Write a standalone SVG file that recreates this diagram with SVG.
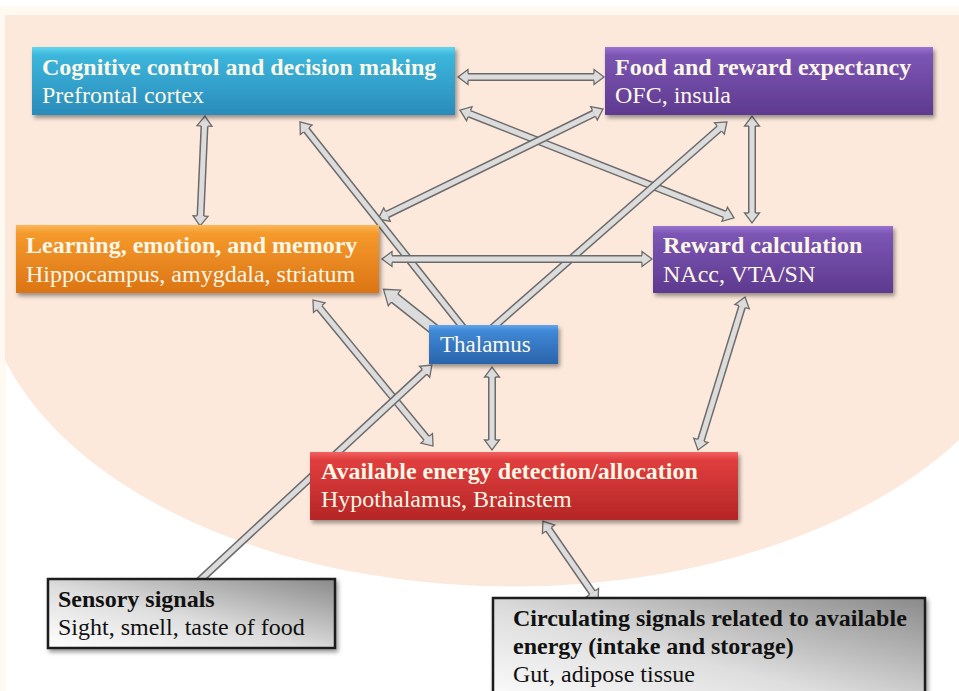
<svg xmlns="http://www.w3.org/2000/svg" width="959" height="691" viewBox="0 0 959 691">
<style>
.o{stroke:#6b6b6b;stroke-width:8;fill:none}
.i{stroke:#dcdcdc;stroke-width:5;fill:none}
.ob{stroke:#6b6b6b;stroke-width:12;fill:none}
.ib{stroke:#dcdcdc;stroke-width:9;fill:none}
.hd{marker-start:url(#h);marker-end:url(#h)}
.he{marker-end:url(#h)}
.hs{marker-start:url(#h)}
text{font-family:"Liberation Serif","DejaVu Serif",serif;font-size:24px;font-weight:normal}
.b{font-weight:bold}
.w{fill:#fbf7e6}
.k{fill:#111}
</style>
<defs>
<marker id="h" markerUnits="userSpaceOnUse" viewBox="-2 -10 16 20" markerWidth="16" markerHeight="20" refX="0" refY="0" orient="auto-start-reverse" overflow="visible">
<path d="M0,-3.4 L0,-7.5 L10,0 L0,7.5 L0,3.4" fill="#dcdcdc" stroke="#6b6b6b" stroke-width="1.3"/>
</marker>
<marker id="hb" markerUnits="userSpaceOnUse" viewBox="-2 -12 18 24" markerWidth="18" markerHeight="24" refX="0" refY="0" orient="auto-start-reverse" overflow="visible">
<path d="M0,-5.3 L0,-10 L14,0 L0,10 L0,5.3" fill="#dcdcdc" stroke="#6b6b6b" stroke-width="1.3"/>
</marker>
<linearGradient id="gc" x1="0" y1="0" x2="0" y2="1"><stop offset="0" stop-color="#63d6ee"/><stop offset="0.12" stop-color="#3cb6dc"/><stop offset="1" stop-color="#2a8bba"/></linearGradient>
<linearGradient id="gp" x1="0" y1="0" x2="0" y2="1"><stop offset="0" stop-color="#9a72cf"/><stop offset="0.12" stop-color="#7c55b4"/><stop offset="1" stop-color="#5e3a8f"/></linearGradient>
<linearGradient id="go" x1="0" y1="0" x2="0" y2="1"><stop offset="0" stop-color="#fbb85a"/><stop offset="0.12" stop-color="#f59a2c"/><stop offset="1" stop-color="#dc7415"/></linearGradient>
<linearGradient id="gb" x1="0" y1="0" x2="0" y2="1"><stop offset="0" stop-color="#63a6ea"/><stop offset="0.15" stop-color="#3f88d6"/><stop offset="1" stop-color="#2a64ab"/></linearGradient>
<linearGradient id="gr" x1="0" y1="0" x2="0" y2="1"><stop offset="0" stop-color="#f26262"/><stop offset="0.12" stop-color="#e03e3e"/><stop offset="1" stop-color="#b52525"/></linearGradient>
<linearGradient id="gg" x1="0" y1="1" x2="1" y2="0"><stop offset="0" stop-color="#ffffff"/><stop offset="0.45" stop-color="#dedede"/><stop offset="1" stop-color="#8a8a8a"/></linearGradient>
<filter id="sh" x="-10%" y="-20%" width="125%" height="150%"><feDropShadow dx="2" dy="3" stdDeviation="2" flood-color="#000" flood-opacity="0.4"/></filter>
</defs>
<rect width="959" height="691" fill="#ffffff"/>
<rect x="0" y="6" width="959" height="10" fill="#fefaf2"/>
<rect x="0" y="6" width="6" height="685" fill="#fefaf2"/>
<path d="M5,15 H959 V440 A530 318 0 0 1 5 360 Z" fill="#fde9db"/>

<g id="connectors">
<g><line class="o hd" x1="468" y1="77" x2="594" y2="77"/><line class="i" x1="468" y1="77" x2="594" y2="77"/></g>
<g><line class="o hd" x1="469.3" y1="113.7" x2="724.7" y2="214.3"/><line class="i" x1="469.3" y1="113.7" x2="724.7" y2="214.3"/></g>
<g><line class="o hd" x1="387" y1="214.6" x2="594" y2="113.4"/><line class="i" x1="387" y1="214.6" x2="594" y2="113.4"/></g>
<g><line class="o hs" x1="306.2" y1="129.8" x2="465" y2="330"/><line class="i" x1="306.2" y1="129.8" x2="465" y2="330"/></g>
<g><line class="o he" x1="490" y1="330" x2="719.4" y2="128.5"/><line class="i" x1="490" y1="330" x2="719.4" y2="128.5"/></g>
<g><line class="o hd" x1="392" y1="259" x2="642" y2="259"/><line class="i" x1="392" y1="259" x2="642" y2="259"/></g>
<g><line class="ob" marker-end="url(#hb)" x1="440" y1="334" x2="394.5" y2="298"/><line class="ib" x1="440" y1="334" x2="394.5" y2="298"/></g>
<g><line class="o hd" x1="319.3" y1="307.7" x2="426.7" y2="438.3"/><line class="i" x1="319.3" y1="307.7" x2="426.7" y2="438.3"/></g>
<g><line class="o he" x1="198" y1="582" x2="424.6" y2="371.8"/><line class="i" x1="198" y1="582" x2="424.6" y2="371.8"/></g>
<g><line class="o hd" x1="492" y1="377" x2="492" y2="440"/><line class="i" x1="492" y1="377" x2="492" y2="440"/></g>
<g><line class="o hd" x1="752" y1="126" x2="752" y2="213"/><line class="i" x1="752" y1="126" x2="752" y2="213"/></g>
<g><line class="o hd" x1="742.1" y1="306.6" x2="700.9" y2="440.4"/><line class="i" x1="742.1" y1="306.6" x2="700.9" y2="440.4"/></g>
<g><line class="o hd" x1="204.5" y1="126" x2="200.5" y2="216"/><line class="i" x1="204.5" y1="126" x2="200.5" y2="216"/></g>
<g><line class="o hd" x1="548.6" y1="529.3" x2="592.4" y2="592.7"/><line class="i" x1="548.6" y1="529.3" x2="592.4" y2="592.7"/></g>
</g>

<g id="cognitive">
<rect x="32" y="47" width="423" height="68" fill="url(#gc)" filter="url(#sh)"/>
<text x="42" y="75" class="b w">Cognitive control and decision making</text>
<text x="42" y="103" class="w">Prefrontal cortex</text>
</g>
<g id="food">
<rect x="605" y="47" width="328" height="68" fill="url(#gp)" filter="url(#sh)"/>
<text x="615" y="75" class="b w">Food and reward expectancy</text>
<text x="615" y="103" class="w">OFC, insula</text>
</g>
<g id="learning">
<rect x="16" y="225" width="363" height="68" fill="url(#go)" filter="url(#sh)"/>
<text x="26" y="253" class="b w">Learning, emotion, and memory</text>
<text x="26" y="282" class="w">Hippocampus, amygdala, striatum</text>
</g>
<g id="reward">
<rect x="653" y="226" width="240" height="67" fill="url(#gp)" filter="url(#sh)"/>
<text x="663" y="253" class="b w">Reward calculation</text>
<text x="663" y="282" class="w">NAcc, VTA/SN</text>
</g>
<g id="thalamus">
<rect x="429" y="325" width="129" height="39" fill="url(#gb)" filter="url(#sh)"/>
<text x="440" y="352" class="w" style="font-size:23px">Thalamus</text>
</g>
<g id="energy">
<rect x="310" y="452" width="428" height="68" fill="url(#gr)" filter="url(#sh)"/>
<text x="321" y="479" class="b w">Available energy detection/allocation</text>
<text x="321" y="507" class="w">Hypothalamus, Brainstem</text>
</g>
<g id="sensory">
<rect x="48" y="579" width="287" height="69" fill="url(#gg)" stroke="#1a1a1a" stroke-width="2.5" filter="url(#sh)"/>
<text x="58" y="607" class="b k">Sensory signals</text>
<text x="58" y="635" class="k">Sight, smell, taste of food</text>
</g>
<g id="circulating">
<rect x="493" y="598" width="432" height="110" fill="url(#gg)" stroke="#1a1a1a" stroke-width="2.5" filter="url(#sh)"/>
<text x="513" y="626" class="b k">Circulating signals related to available</text>
<text x="513" y="654" class="b k">energy (intake and storage)</text>
<text x="513" y="682" class="k">Gut, adipose tissue</text>
</g>
</svg>
